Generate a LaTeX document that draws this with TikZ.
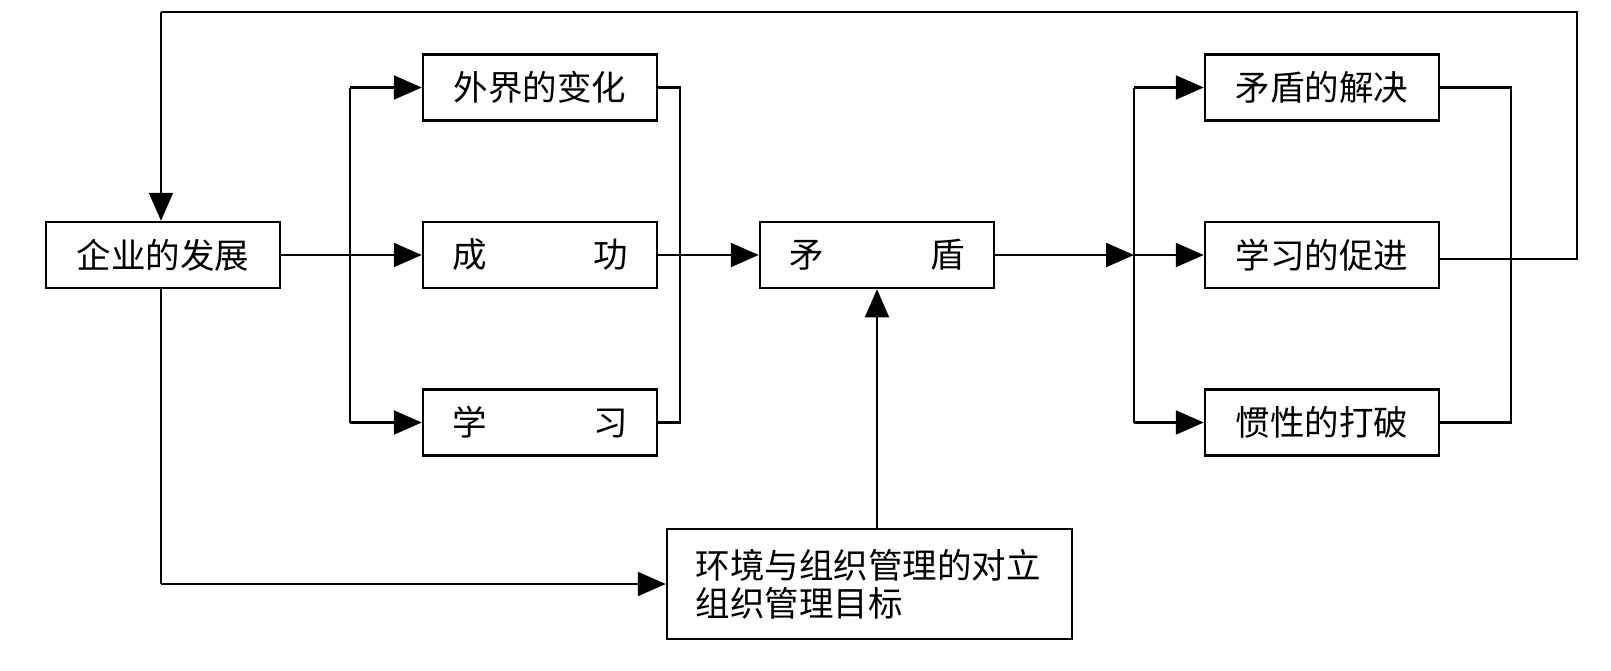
\documentclass[tikz,border=0pt]{standalone}
\usepackage{fontspec}
\newfontfamily\cjk{Noto Sans CJK SC}
\usetikzlibrary{arrows.meta}
\tikzset{
  box/.style={draw, line width=2.5pt, rectangle, minimum width=234pt, minimum height=66pt, inner sep=0pt, font=\cjk\fontsize{34.5}{38}\selectfont},
  conn/.style={line width=2.3pt},
  thinconn/.style={line width=1.7pt},
  arr/.style={-{Triangle[length=28pt,width=24pt]}},
}
\begin{document}
\begin{tikzpicture}[x=1pt,y=-1pt]
\useasboundingbox[fill=white] (0,0) rectangle (1611,670);
% nodes
\node[box] (qy) at (163,255) {企业的发展};
\node[box] (wj) at (540,87.5) {外界的变化};
\node[box] (cg) at (540,255) {\makebox[175pt]{成\hfill 功}};
\node[box] (xx) at (540,422.5) {\makebox[175pt]{学\hfill 习}};
\node[box] (md) at (877,255) {\makebox[175pt]{矛\hfill 盾}};
\node[box] (jj) at (1322,87.5) {矛盾的解决};
\node[box] (cj) at (1322,255) {学习的促进};
\node[box] (dp) at (1322,422.5) {惯性的打破};
\node[box, minimum width=405pt, minimum height=110pt, text width=348pt, inner xsep=28.5pt, align=left] (bb) at (869.5,584) {环境与组织管理的对立\\组织管理目标};
% branch coordinates
\coordinate (lb) at (350,255);
\coordinate (lj) at (680,255);
\coordinate (rb) at (1134,255);
\coordinate (rj) at (1511,255);
\coordinate (fbr) at (1577,12);
\coordinate (fbl) at (161,12);
% left fan-out
\draw[conn, arr] (qy.east) -- (cg.west);
\draw[conn] (lb |- wj.west) -- (lb |- xx.west);
\draw[conn, arr] (lb |- wj.west) -- (wj.west);
\draw[conn, arr] (lb |- xx.west) -- (xx.west);
% left join
\draw[conn] (wj.east) -- (lj |- wj.east) -- (lj |- xx.east) -- (xx.east);
\draw[conn, arr] (cg.east) -- (md.west);
% right fan-out
\draw[conn, arr] (md.east) -- (rb);
\draw[conn] (rb |- jj.west) -- (rb |- dp.west);
\draw[conn, arr] (rb |- jj.west) -- (jj.west);
\draw[conn, arr] (rb) -- (cj.west);
\draw[conn, arr] (rb |- dp.west) -- (dp.west);
% right join
\draw[conn] (jj.east) -- (rj |- jj.east) -- (rj |- dp.east) -- (dp.east);
% feedback loop
\draw[thinconn] ([yshift=-4pt]cj.east) -- ([yshift=-4pt]fbr |- cj.east) -- (fbr) -- (fbl);
\draw[thinconn, arr] (fbl) -- (fbl |- qy.north);
% bottom path
\draw[thinconn] (fbl |- qy.south) -- (fbl |- bb.west);
\draw[conn, arr] (fbl |- bb.west) -- (bb.west);
\draw[thinconn, arr] (bb.north -| md.south) -- (md.south);
\end{tikzpicture}
\end{document}
